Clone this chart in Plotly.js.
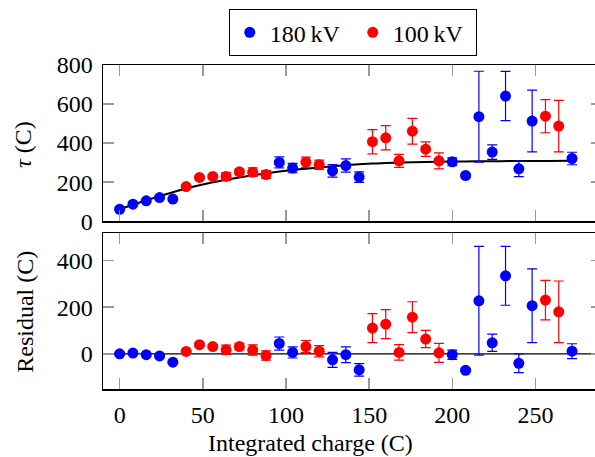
<!DOCTYPE html>
<html>
<head>
<meta charset="utf-8">
<script src="https://cdn.plot.ly/plotly-3.0.1.min.js"></script>
<style>
html,body{margin:0;padding:0;overflow:hidden;background:#fff;width:595px;height:457px;}
#chart{width:620px;height:457px;}
</style>
</head>
<body>
<div id="chart"></div>
<script>
// 180 kV series
const blueX   = [0, 8, 16, 24, 32, 96, 104, 128, 136, 144, 200, 208, 216, 224, 232, 240, 248, 272];
const blueY   = [61, 87, 104, 121, 113, 301, 272, 258, 285, 226, 304, 234, 535, 354, 641, 268, 513, 321];
const blueErr = [6, 6, 6, 6, 6, 28, 24, 32, 34, 27, 20, 8, 233, 37, 126, 40, 158, 32];
const blueRes = [0, 3, -4, -9, -36, 44, 6, -26, -4, -69, -4, -71, 227, 47, 334, -41, 206, 11];

// 100 kV series
const redX   = [40, 48, 56, 64, 72, 80, 88, 112, 120, 152, 160, 168, 176, 184, 192, 256, 264];
const redY   = [177, 224, 229, 229, 253, 251, 239, 302, 289, 407, 427, 309, 461, 369, 309, 538, 487];
const redErr = [6, 6, 8, 20, 14, 22, 20, 26, 24, 62, 62, 33, 66, 37, 41, 85, 132];
const redRes = [10, 39, 31, 17, 31, 16, -7, 31, 11, 110, 127, 6, 157, 63, 4, 230, 180];

// fitted curve
const fitX = [0, 8, 16, 24, 32, 40, 48, 56, 64, 72, 80, 88, 96, 104, 112, 120, 128, 136, 144, 152, 160, 176, 192, 208, 224, 240, 256, 272];
const fitY = [61, 84, 107, 128, 148, 167, 184, 199, 212, 224, 235, 245, 254, 262, 269, 275, 281, 286, 292, 295, 298, 302, 305, 306, 307, 308, 308, 309];

const xTicks = [0, 50, 100, 150, 200, 250];
const yTicksTop = [0, 200, 400, 600, 800];
const yTicksBottom = [0, 200, 400];

const labels = ['180\u2009kV', '100\u2009kV'];
const BLUE = '#0000ff', RED = '#ff0000';
const FONT = 'Liberation Serif';

const traces = [
  {x: fitX, y: fitY, xaxis: 'x2', yaxis: 'y', mode: 'lines', line: {color: '#000', width: 2, shape: 'spline'}, showlegend: false, hoverinfo: 'skip'},
  {x: blueX, y: blueY, xaxis: 'x2', yaxis: 'y', mode: 'markers', name: labels[0],
   marker: {color: BLUE, size: 11}, error_y: {type: 'data', array: blueErr, visible: true, color: BLUE, thickness: 1.2, width: 5}},
  {x: redX, y: redY, xaxis: 'x2', yaxis: 'y', mode: 'markers', name: labels[1],
   marker: {color: RED, size: 11}, error_y: {type: 'data', array: redErr, visible: true, color: RED, thickness: 1.2, width: 5}},
  {x: blueX, y: blueRes, xaxis: 'x', yaxis: 'y2', mode: 'markers', showlegend: false,
   marker: {color: BLUE, size: 11}, error_y: {type: 'data', array: blueErr, visible: true, color: BLUE, thickness: 1.2, width: 5}},
  {x: redX, y: redRes, xaxis: 'x', yaxis: 'y2', mode: 'markers', showlegend: false,
   marker: {color: RED, size: 11}, error_y: {type: 'data', array: redErr, visible: true, color: RED, thickness: 1.2, width: 5}}
];

const axCommon = {
  showline: true, linecolor: '#000', linewidth: 1.5, mirror: 'ticks',
  ticks: 'inside', ticklen: 11, tickwidth: 1.5, tickcolor: '#999',
  showgrid: false, zeroline: false,
  tickfont: {family: FONT, size: 24, color: '#000'}
};

const layout = {
  width: 620, height: 457,
  margin: {l: 103, r: 18, t: 65, b: 68, autoexpand: false},
  paper_bgcolor: '#fff', plot_bgcolor: '#fff',
  font: {family: FONT, size: 24, color: '#000'},
  xaxis: Object.assign({}, axCommon, {domain: [0, 1], anchor: 'y2', range: [-10, 290], tickvals: xTicks, ticklabelstandoff: 4}),
  xaxis2: Object.assign({}, axCommon, {domain: [0, 1], anchor: 'y', range: [-10, 290], tickvals: xTicks, showticklabels: false, matches: 'x'}),
  yaxis: Object.assign({}, axCommon, {domain: [0.518, 1], anchor: 'x2', range: [0, 800], tickvals: yTicksTop, ticklabelstandoff: 4}),
  yaxis2: Object.assign({}, axCommon, {domain: [0, 0.481], anchor: 'x', range: [-151, 517], tickvals: yTicksBottom, ticklabelstandoff: 4}),
  shapes: [
    {type: 'line', xref: 'paper', yref: 'y2', x0: 0, x1: 1, y0: 0, y1: 0, line: {color: '#000', width: 1.2}, layer: 'below'}
  ],
  legend: {
    orientation: 'h', x: 0.252, y: 1.172, xanchor: 'left', yanchor: 'top',
    bordercolor: '#000', borderwidth: 1, bgcolor: '#fff',
    font: {family: FONT, size: 24, color: '#000'},
    itemwidth: 30, entrywidth: 78, tracegroupgap: 0
  },
  annotations: [
    {text: '<i>τ</i> (C)', xref: 'paper', yref: 'paper', x: (23 - 103) / 499, y: (389.3 - 145) / 324.3,
     xanchor: 'center', yanchor: 'middle', textangle: -90, showarrow: false, font: {family: FONT, size: 24}},
    {text: 'Residual (C)', xref: 'paper', yref: 'paper', x: (25 - 103) / 499, y: (389.3 - 312) / 324.3,
     xanchor: 'center', yanchor: 'middle', textangle: -90, showarrow: false, font: {family: FONT, size: 24}},
    {text: 'Integrated charge (C)', xref: 'paper', yref: 'paper', x: (310 - 103) / 499, y: (389.3 - 443) / 324.3,
     xanchor: 'center', yanchor: 'middle', showarrow: false, font: {family: FONT, size: 24}}
  ]
};

function draw() {
  Plotly.newPlot('chart', traces, layout, {displayModeBar: false, staticPlot: true});
}
if (document.fonts && document.fonts.load) {
  document.fonts.load('24px "Liberation Serif"').then(draw, draw);
} else {
  draw();
}
</script>
</body>
</html>
